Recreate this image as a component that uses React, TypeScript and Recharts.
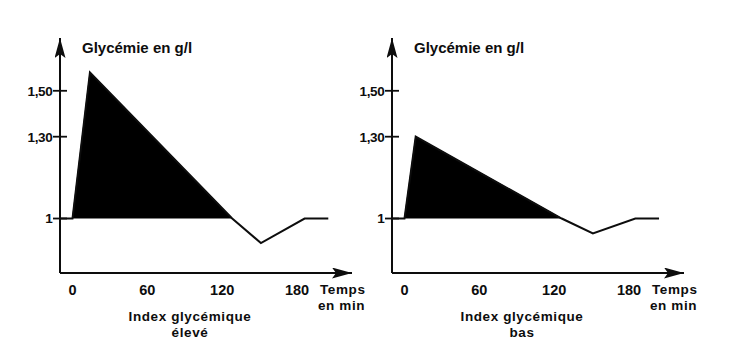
import React from 'react';
import { ComposedChart, Line, Area, XAxis, YAxis } from 'recharts';

// ---- data ----
const TIME_HIGH = [-10, 0, 14, 128, 151, 186, 205];
const GLY_HIGH = [1, 1, 1.58, 1, 0.91, 1, 1];
const SHADE_HIGH: (number | null)[] = [null, 1, 1.58, 1, null, null, null];

const TIME_LOW = [-10, 0, 9, 126, 151, 185, 204];
const GLY_LOW = [1, 1, 1.3, 1, 0.945, 1, 1];
const SHADE_LOW: (number | null)[] = [null, 1, 1.3, 1, null, null, null];

const X_TICKS = [0, 60, 120, 180];
const Y_TICKS = [1, 1.3, 1.5];
const Y_TICK_LABELS = ['1', '1,30', '1,50'];

const Y_TITLE = 'Glycémie en g/l';
const X_TITLE = ['Temps', 'en min'];
const CAPTION_HIGH = ['Index glycémique', 'élevé'];
const CAPTION_LOW = ['Index glycémique', 'bas'];

// the original y axis is drawn with uneven spacing between graduations
const Y_WARP: [number, number][] = [
  [0.5, -136.5],
  [1, 0],
  [1.3, 82],
  [1.5, 128],
  [2.0, 243],
];

function warp(v: number): number {
  const k = Y_WARP;
  let i = 0;
  if (v <= k[0][0]) i = 0;
  else if (v >= k[k.length - 1][0]) i = k.length - 2;
  else {
    while (i < k.length - 2 && v > k[i + 1][0]) i++;
  }
  const [a0, b0] = k[i];
  const [a1, b1] = k[i + 1];
  return b0 + ((v - a0) / (a1 - a0)) * (b1 - b0);
}

function makeWarpScale(): any {
  let dom: number[] = [0, 1];
  let rng: number[] = [0, 1];
  const s: any = (v: number) => {
    const w0 = warp(dom[0]);
    const w1 = warp(dom[dom.length - 1]);
    const t = (warp(Number(v)) - w0) / (w1 - w0);
    return rng[0] + t * (rng[rng.length - 1] - rng[0]);
  };
  s.domain = (d?: any[]) => {
    if (d === undefined) return dom.slice();
    dom = d.map(Number);
    return s;
  };
  s.range = (r?: any[]) => {
    if (r === undefined) return rng.slice();
    rng = r.map(Number);
    return s;
  };
  s.copy = () => makeWarpScale().domain(dom).range(rng);
  s.ticks = () => Y_TICKS.slice();
  s.tickFormat = () => (v: number) => String(v);
  s.nice = () => s;
  s.clamp = () => s;
  s.invert = (p: number) => {
    const w0 = warp(dom[0]);
    const w1 = warp(dom[dom.length - 1]);
    const t = (p - rng[0]) / (rng[rng.length - 1] - rng[0]);
    const w = w0 + t * (w1 - w0);
    for (let i = 0; i < Y_WARP.length - 1; i++) {
      const [a0, b0] = Y_WARP[i];
      const [a1, b1] = Y_WARP[i + 1];
      if (w <= b1 || i === Y_WARP.length - 2) return a0 + ((w - b0) / (b1 - b0)) * (a1 - a0);
    }
    return w;
  };
  return s;
}

const FONT = '"Liberation Sans", Arial, Helvetica, sans-serif';
const INK = '#0d0d0d';

const W = 370;
const H = 355;

function buildRows(t: number[], g: number[], s: (number | null)[]) {
  return t.map((time, i) => ({ time, g: g[i], shade: s[i] }));
}

const YTick = (props: any) => {
  const { x, y, payload } = props;
  const idx = Y_TICKS.indexOf(payload.value);
  const label = idx >= 0 ? Y_TICK_LABELS[idx] : String(payload.value);
  return (
    <g>
      <line x1={x} x2={x + 14} y1={y} y2={y} stroke={INK} strokeWidth={1.8} />
      <text
        x={x - 0.5}
        y={y}
        dy="0.36em"
        textAnchor="end"
        fontFamily={FONT}
        fontWeight="bold"
        fontSize={13.5}
        fill={INK}
        letterSpacing={-0.3}
      >
        {label}
      </text>
    </g>
  );
};

function Panel({ rows, caption, id }: { rows: any[]; caption: string[]; id: string }) {
  const title = { fontFamily: FONT, fontWeight: 'bold' as const, fontSize: 15, fill: INK };
  const txt = {
    fontFamily: FONT,
    fontWeight: 'bold' as const,
    fontSize: 13.5,
    fill: INK,
    letterSpacing: 0.6,
  };
  return (
    <ComposedChart
      width={W}
      height={H}
      data={rows}
      margin={{ top: 38, right: 18, bottom: 52, left: 10 }}
    >
      <defs>
        <marker
          id={`arr-${id}`}
          viewBox="0 0 20 11"
          markerWidth={20}
          markerHeight={11}
          refX={20}
          refY={5.5}
          orient="auto-start-reverse"
          markerUnits="userSpaceOnUse"
        >
          <path d="M0,0 L20,5.5 L0,11 L4,5.5 Z" fill={INK} />
        </marker>
      </defs>
      <XAxis
        dataKey="time"
        type="number"
        domain={[-10, 224]}
        ticks={X_TICKS}
        allowDataOverflow
        height={30}
        tickLine={false}
        tickSize={6}
        tickMargin={6}
        axisLine={{ stroke: INK, strokeWidth: 2, markerEnd: `url(#arr-${id})` }}
        tick={{ fontFamily: FONT, fontWeight: 'bold', fontSize: 14.5, fill: INK }}
        interval={0}
      />
      <YAxis
        type="number"
        domain={[0.8, 1.73]}
        scale={makeWarpScale()}
        ticks={Y_TICKS}
        allowDataOverflow
        width={50}
        tickLine={false}
        tickSize={7}
        tickMargin={0}
        axisLine={{ stroke: INK, strokeWidth: 2, markerStart: `url(#arr-${id})` }}
        tick={<YTick />}
        interval={0}
      />
      <Area
        dataKey="shade"
        type="linear"
        baseValue={1}
        fill="#000"
        fillOpacity={1}
        stroke="#000"
        strokeWidth={1}
        connectNulls={false}
        isAnimationActive={false}
        dot={false}
        activeDot={false}
      />
      <Line
        dataKey="g"
        type="linear"
        stroke={INK}
        strokeWidth={2}
        dot={false}
        activeDot={false}
        isAnimationActive={false}
      />
      <g>
        <text x={82} y={48} dy="0.36em" {...title}>
          {Y_TITLE}
        </text>
        <text x={320} y={289.5} dy="0.36em" {...txt}>
          {X_TITLE[0]}
        </text>
        <text x={318} y={305} dy="0.36em" {...txt}>
          {X_TITLE[1]}
        </text>
        <text x={190} y={316.5} dy="0.36em" textAnchor="middle" {...txt}>
          {caption[0]}
        </text>
        <text x={190} y={332.5} dy="0.36em" textAnchor="middle" {...txt}>
          {caption[1]}
        </text>
      </g>
    </ComposedChart>
  );
}

export default function App() {
  const high = buildRows(TIME_HIGH, GLY_HIGH, SHADE_HIGH);
  const low = buildRows(TIME_LOW, GLY_LOW, SHADE_LOW);
  return (
    <div
      style={{
        position: 'absolute',
        left: 0,
        top: 0,
        width: 738,
        height: 355,
        background: '#fff',
        overflow: 'hidden',
      }}
    >
      <div style={{ position: 'absolute', left: 0, top: 0 }}>
        <Panel rows={high} caption={CAPTION_HIGH} id="high" />
      </div>
      <div style={{ position: 'absolute', left: 332, top: 0 }}>
        <Panel rows={low} caption={CAPTION_LOW} id="low" />
      </div>
    </div>
  );
}
